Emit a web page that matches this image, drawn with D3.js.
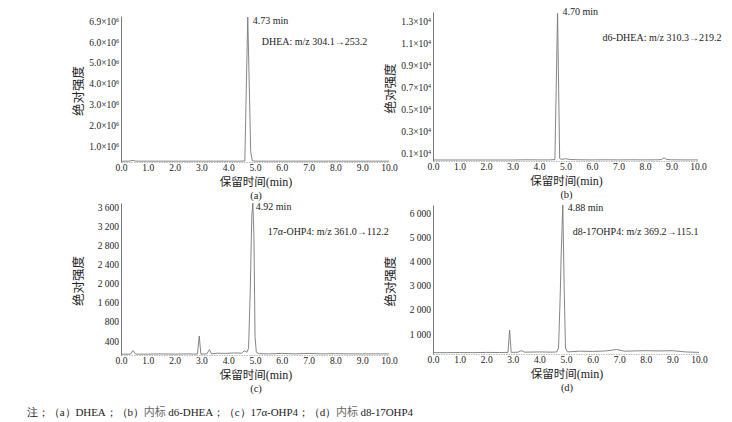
<!DOCTYPE html>
<html><head><meta charset="utf-8">
<script src="https://cdn.jsdelivr.net/npm/d3@7"></script>
<style>
body{margin:0;background:#fff;}
svg{display:block;}
</style></head>
<body><svg id="c" width="732" height="422"></svg>
<script>
// ---- data ----
const xTicks = [0,1,2,3,4,5,6,7,8,9,10];
const xTickLabels = ["0.0","1.0","2.0","3.0","4.0","5.0","6.0","7.0","8.0","9.0","10.0"];

// (a) DHEA  intensities in counts
const timeA = [0,0.3,0.45,0.55,1.0,1.5,2.0,2.5,3.0,3.5,4.0,4.4,4.62,4.73,4.84,4.9,5.0,5.5,6.0,6.5,7.0,7.5,8.0,8.5,9.0,9.5,10.0];
const valA  = [0.27e6,0.27e6,0.31e6,0.27e6,0.27e6,0.27e6,0.27e6,0.27e6,0.27e6,0.27e6,0.27e6,0.27e6,0.28e6,7.2e6,0.72e6,0.3e6,0.27e6,0.27e6,0.27e6,0.27e6,0.27e6,0.27e6,0.27e6,0.27e6,0.27e6,0.27e6,0.27e6];
const yTicksA = [1e6,2e6,3e6,4e6,5e6,6e6,7e6];
const yTickLabelsA = ["1.0×10^6","2.0×10^6","3.0×10^6","4.0×10^6","5.0×10^6","6.0×10^6","6.9×10^6"];

// (b) d6-DHEA
const timeB = [0,0.5,1.0,1.5,2.0,2.5,3.0,3.5,4.0,4.4,4.6,4.70,4.78,4.85,5.0,5.2,5.5,6.0,6.5,7.0,7.5,8.0,8.5,8.62,8.72,8.82,9.0,9.5,10.0];
const valB  = [360,360,360,360,360,360,360,380,370,370,400,13700,500,420,480,400,380,370,380,370,380,370,380,400,560,410,380,370,370];
const yTicksB = [1000,3000,5000,7000,9000,11000,13000];
const yTickLabelsB = ["0.1×10^4","0.3×10^4","0.5×10^4","0.7×10^4","0.9×10^4","1.1×10^4","1.3×10^4"];

// (c) 17α-OHP4
const timeC = [0,0.35,0.45,0.55,1.0,1.5,2.0,2.5,2.85,2.92,2.98,3.2,3.3,3.38,3.6,3.9,4.2,4.5,4.6,4.7,4.76,4.82,4.88,4.92,4.96,5.0,5.05,5.15,5.5,6.0,6.5,7.0,7.5,8.0,8.5,9.0,9.5,10.0];
const valC  = [525,525,600,525,525,530,525,530,525,905,525,530,620,530,545,540,550,545,595,565,650,1800,3400,3684,3000,900,565,535,530,540,530,540,530,535,530,530,530,530];
const yTicksC = [800,1200,1600,2000,2400,2800,3200,3600];
const yTickLabelsC = ["400","800","1 600","2 000","2 400","2 800","3 200","3 600"];

// (d) d8-17OHP4
const timeD = [0,0.5,1.0,1.5,2.0,2.5,2.82,2.88,2.94,3.2,3.32,3.45,4.0,4.5,4.65,4.72,4.78,4.82,4.88,4.93,4.98,5.05,5.5,6.0,6.5,6.9,7.2,7.5,8.0,8.5,9.0,9.5,10.0];
const valD  = [230,230,235,230,240,235,240,1165,240,250,310,250,260,250,260,420,2500,4300,6330,3000,420,260,290,280,300,360,290,300,310,300,310,260,240];
const yTicksD = [1000,2000,3000,4000,5000,6000];
const yTickLabelsD = ["1 000","2 000","3 000","4 000","5 000","6 000"];

const peakTimes = [4.73,4.70,4.92,4.88];
const peakLabels = ["4.73 min","4.70 min","4.92 min","4.88 min"];
const transitions = ["DHEA: m/z 304.1→253.2","d6-DHEA: m/z 310.3→219.2","17α-OHP4: m/z 361.0→112.2","d8-17OHP4: m/z 369.2→115.1"];
const panelLetters = ["(a)","(b)","(c)","(d)"];
const yTitle = "绝对强度";
const xTitleCJK = "保留时间";
const xTitleUnit = "(min)";
const noteParts = ["注；（a）DHEA；（b）","内标"," d6-DHEA；（c）17α-OHP4；（d）","内标"," d8-17OHP4"];

// ---- layout ----
const SERIF = '"Liberation Serif","Times New Roman",serif';
const CJK = '"Noto Sans CJK SC",sans-serif';
const panels = [
  {t:timeA,v:valA,yt:yTicksA,yl:yTickLabelsA,dom:[0.23e6,7.25e6],xr:[121,389],yr:[162,16]},
  {t:timeB,v:valB,yt:yTicksB,yl:yTickLabelsB,dom:[270,13820],xr:[433,698],yr:[161,12]},
  {t:timeC,v:valC,yt:yTicksC,yl:yTickLabelsC,dom:[507,3684],xr:[121,389],yr:[355,203]},
  {t:timeD,v:valD,yt:yTicksD,yl:yTickLabelsD,dom:[174,6330],xr:[433,699],yr:[354,205]}
];
const annoDy = [[8,29],[3,29],[7,32],[6,30]];
const annoDx = [[5,14],[5,45],[3,15],[5,10]];

const svg = d3.select("#c");

panels.forEach((p,i)=>{
  const x = d3.scaleLinear().domain([0,10]).range(p.xr);
  const y = d3.scaleLinear().domain(p.dom).range(p.yr);
  const g = svg.append("g");

  // x axis (light baseline)
  const xa = g.append("g").attr("transform",`translate(0,${p.yr[0]})`)
    .call(d3.axisBottom(x).tickValues(xTicks).tickFormat((d,k)=>xTickLabels[k]).tickSize(0).tickPadding(2));
  xa.attr("font-family",SERIF).attr("font-size",9.5);
  xa.select(".domain").attr("stroke","#aaa").attr("stroke-width",0.8).attr("stroke-dasharray","1.5,1");
  xa.selectAll("text").attr("fill","#222");

  // y axis
  const ya = g.append("g").attr("transform",`translate(${p.xr[0]},0)`)
    .call(d3.axisLeft(y).tickValues(p.yt).tickFormat((d,k)=>p.yl[k]).tickSize(0).tickPadding(2));
  ya.attr("font-family",SERIF).attr("font-size",9.5);
  ya.select(".domain").attr("stroke","#666").attr("stroke-width",0.9);
  ya.selectAll("text").attr("fill","#222").each(function(){
    const t = d3.select(this), s = t.text();
    if (s.indexOf("^")>=0){
      const [base,exp] = s.split("^");
      t.text(null);
      t.append("tspan").text(base);
      t.append("tspan").attr("font-size",6).attr("dy","-0.45em").text(exp);
    }
  });

  // trace
  const line = d3.line().x((d,k)=>x(p.t[k])).y(d=>y(d));
  g.append("path").datum(p.v).attr("d",line).attr("fill","none")
    .attr("stroke","#777").attr("stroke-width",0.9);

  // annotations
  const px = x(peakTimes[i]);
  g.append("text").attr("font-family",SERIF).attr("font-size",10).attr("fill","#222")
    .attr("x",px+annoDx[i][0]).attr("y",p.yr[1]+annoDy[i][0]).text(peakLabels[i]);
  g.append("text").attr("font-family",SERIF).attr("font-size",10).attr("fill","#222")
    .attr("x",px+annoDx[i][1]).attr("y",p.yr[1]+annoDy[i][1]).text(transitions[i]);

  // titles
  const cx = (p.xr[0]+p.xr[1])/2;
  const cy = (p.yr[0]+p.yr[1])/2;
  g.append("text").attr("font-family",CJK).attr("font-size",12.5).attr("fill","#222")
    .attr("text-anchor","middle")
    .attr("transform",`translate(${p.xr[0]-38},${cy+2}) rotate(-90)`).text(yTitle);
  const xt = g.append("text").attr("font-family",CJK).attr("font-size",11.5).attr("fill","#222")
    .attr("text-anchor","middle").attr("x",cx+1).attr("y",p.yr[0]+24);
  xt.append("tspan").text(xTitleCJK);
  xt.append("tspan").attr("font-family",SERIF).attr("font-size",12).text(xTitleUnit);
  g.append("text").attr("font-family",SERIF).attr("font-size",10.5).attr("fill","#222")
    .attr("text-anchor","middle").attr("x",cx+1).attr("y",p.yr[0]+37).text(panelLetters[i]);
});

// footer note
const nt = svg.append("text").attr("x",27).attr("y",416).attr("font-size",11)
  .attr("font-family",SERIF).attr("fill","#222")
  .attr("textLength",386).attr("lengthAdjust","spacing");
noteParts.forEach((s,k)=>{
  const ts = nt.append("tspan").text(s);
  if (k%2===1) ts.attr("font-family",CJK).attr("fill","#666");
});
</script></body></html>
